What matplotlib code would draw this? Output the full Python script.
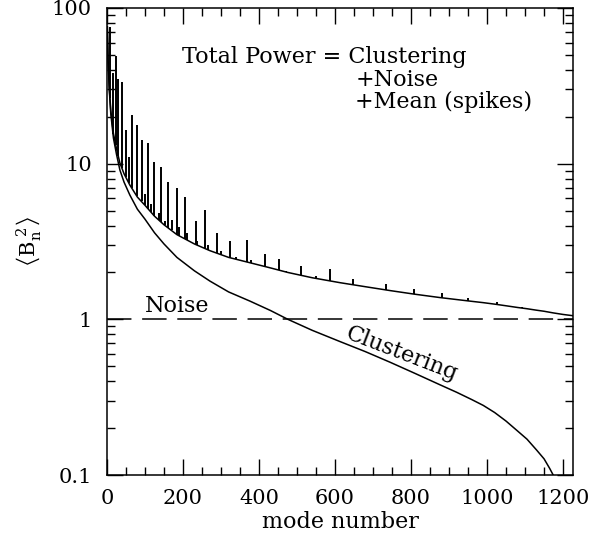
import matplotlib
matplotlib.use('Agg')
import matplotlib.pyplot as plt
import numpy as np
from matplotlib.ticker import FixedLocator, FixedFormatter, MultipleLocator, LogLocator, NullFormatter

plt.rcParams['font.family'] = 'DejaVu Serif'
plt.rcParams['mathtext.fontset'] = 'dejavuserif'

# clustering power vs mode number
mode = [1, 3, 6, 10, 17, 25, 34, 45, 60, 80, 100, 125, 150, 184, 230, 271, 320, 376,
        430, 476, 540, 613, 680, 745, 810, 876, 920, 960, 990, 1020, 1050, 1080, 1105,
        1130, 1150, 1165, 1174, 1200, 1226]
clustering = [75, 45, 30, 21, 14.6, 11.5, 9.1, 7.6, 6.3, 5.1, 4.4, 3.6, 3.05, 2.5, 2.05,
              1.76, 1.5, 1.31, 1.14, 1.0, 0.85, 0.72, 0.62, 0.53, 0.45, 0.38, 0.34,
              0.305, 0.28, 0.252, 0.222, 0.192, 0.17, 0.145, 0.127, 0.11, 0.1, 0.075, 0.055]
noise = 1.0

# spikes from the mean (mode, top of spike)
spike_mode = [8, 17, 23, 30, 39, 50, 58, 65, 78, 91, 100, 109, 116, 125, 136, 142, 152,
              161, 170, 184, 190, 205, 210, 234, 237, 258, 266, 289, 300, 324, 340, 368,
              380, 417, 453, 470, 510, 550, 587, 647, 734, 808, 881, 950, 1025, 1092]
spike_top = [75, 38.5, 49, 35, 33.5, 16.5, 11, 20.6, 17.7, 14.2, 6.4, 13.5, 5.5, 10.2,
             4.8, 9.5, 4.3, 7.6, 4.37, 7.0, 3.9, 6.1, 3.6, 4.3, 3.2, 5.07, 3.0, 3.6, 2.75,
             3.2, 2.5, 3.24, 2.4, 2.63, 2.45, 2.05, 2.2, 1.9, 2.1, 1.81, 1.68, 1.56, 1.47,
             1.38, 1.29, 1.2]

mode = np.array(mode)
clustering = np.array(clustering)
total = clustering + noise
spike_base = np.interp(spike_mode, mode, total)

fig = plt.figure(figsize=(5.93, 5.39), dpi=100)
ax = fig.add_axes([0.1804, 0.1187, 0.7858, 0.8665])

ax.plot(mode, clustering, color='black', lw=1.1)
ax.plot(mode, total, color='black', lw=1.1)
ax.vlines(spike_mode, spike_base, spike_top, color='black', lw=1.4)
ax.axhline(noise, color='black', lw=1.1, dashes=(16, 7))

ax.set_yscale('log')
ax.set_xlim(0, 1226)
ax.set_ylim(0.1, 100)

ax.xaxis.set_major_locator(MultipleLocator(200))
ax.xaxis.set_minor_locator(MultipleLocator(50))
ax.yaxis.set_major_locator(FixedLocator([0.1, 1, 10, 100]))
ax.yaxis.set_major_formatter(FixedFormatter(['0.1', '1', '10', '100']))
ax.yaxis.set_minor_locator(LogLocator(base=10, subs=np.arange(2, 10)))
ax.yaxis.set_minor_formatter(NullFormatter())

ax.tick_params(which='both', direction='in', top=True, right=True, labelsize=15, width=1)
ax.tick_params(which='major', length=11.5)
ax.tick_params(which='minor', length=5.8)
ax.tick_params(axis='x', pad=10)
ax.tick_params(axis='y', pad=11)
for s in ax.spines.values():
    s.set_linewidth(1.1)

ax.set_xlabel('mode number', fontsize=16, labelpad=2)
ax.set_ylabel(r'$\left\langle\mathrm{B}_\mathrm{n}^{\;2}\right\rangle$', fontsize=15, labelpad=6)

ax.text(0.161, 0.882, 'Total Power = Clustering', transform=ax.transAxes, fontsize=16)
ax.text(0.533, 0.832, '+Noise', transform=ax.transAxes, fontsize=16)
ax.text(0.533, 0.786, '+Mean (spikes)', transform=ax.transAxes, fontsize=16)
ax.text(184, 1.21, 'Noise', fontsize=16, ha='center', va='center')
ax.text(775, 0.60, 'Clustering', fontsize=16, ha='center', va='center', rotation=-21)

fig.savefig('out.png', dpi=100)
